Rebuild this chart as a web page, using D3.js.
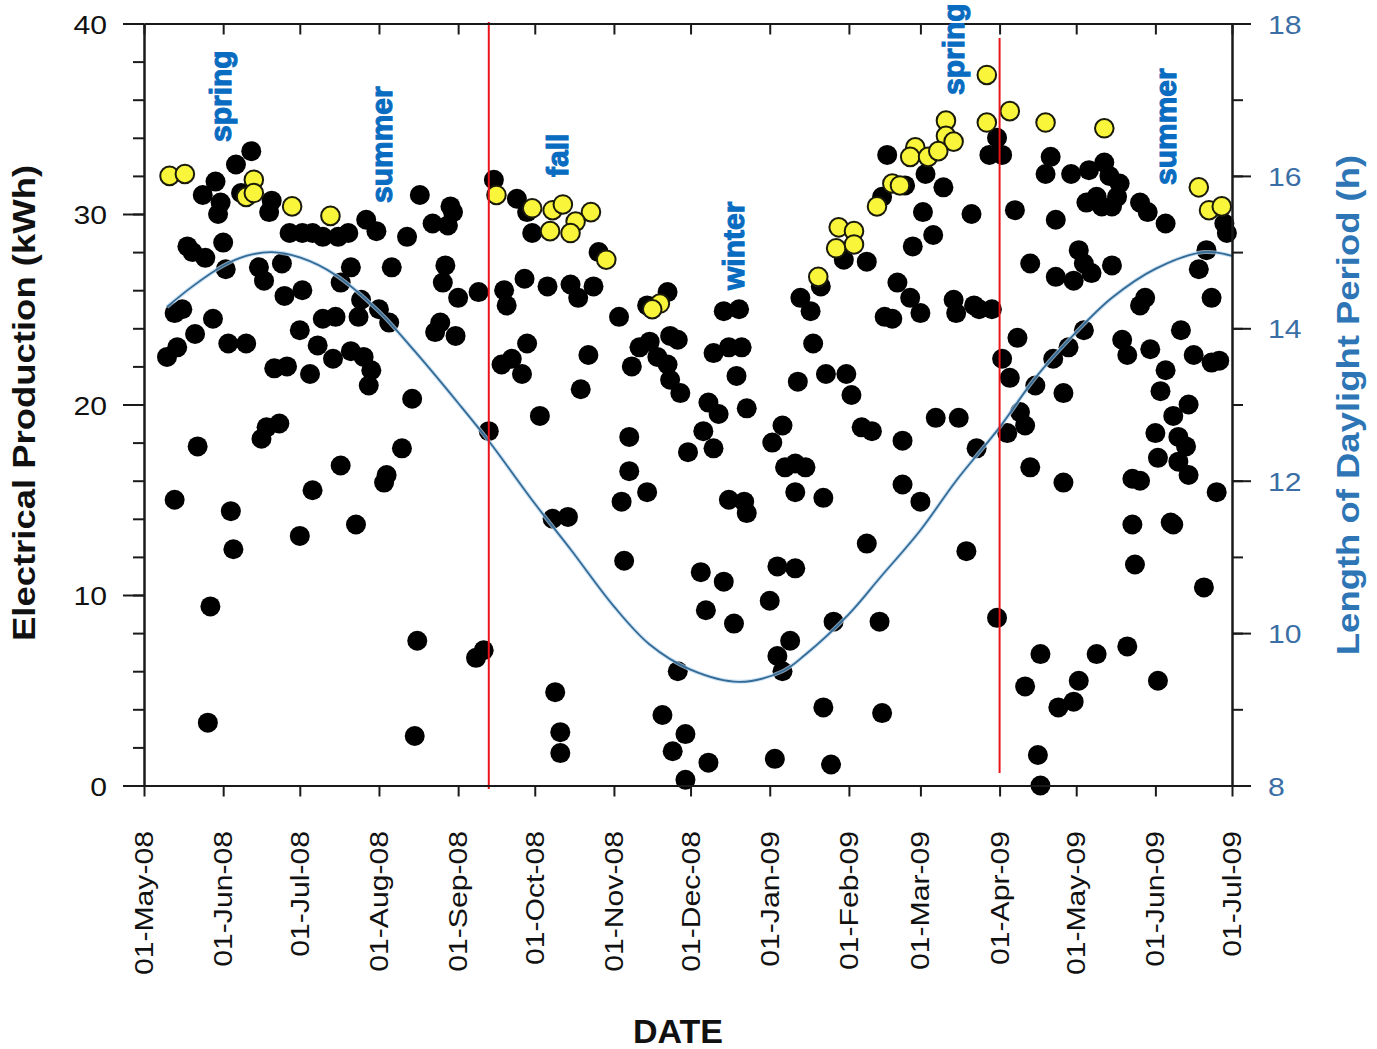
<!DOCTYPE html>
<html><head><meta charset="utf-8">
<script src="https://cdn.jsdelivr.net/npm/d3@7"></script>
<style>body{margin:0;background:#fff}svg{display:block}</style>
</head><body>
<svg id="c" width="1377" height="1049"></svg>
<script>
// ---------------- DATA ----------------
const startDate = "2008-05-01";           // day 0 of the day offsets below
const endDate = "2009-07-01";
const monthTicks = ["2008-05-01","2008-06-01","2008-07-01","2008-08-01","2008-09-01","2008-10-01","2008-11-01",
  "2008-12-01","2009-01-01","2009-02-01","2009-03-01","2009-04-01","2009-05-01","2009-06-01","2009-07-01"];
const leftTicks = [0,10,20,30,40];
const leftMinor = [0,2,4,6,8,10,12,14,16,18,20,22,24,26,28,30,32,34,36,38,40];
const rightTicks = [8,10,12,14,16,18];
const rightMinor = [8,9,10,11,12,13,14,15,16,17,18];

// Daily electrical production (kWh), black markers: day offset since 01-May-08 and value
const blackDay = [
  42,36,28,23,30,29,38,50,49,57,62,66,70,76,80,87,91,103,108,113,
  17,19,24,31,32,45,47,54,55,62,81,77,97,85,84,92,96,
  12,15,27,20,61,70,75,
  9,13,33,40,51,56,68,74,81,86,89,65,88,105,
  21,12,34,35,46,48,53,66,61,77,83,101,95,94,26,25,107,106,
  137,146,150,152,178,205,
  120,121,119,118,117,
  123,131,141,142,149,158,167,170,176,186,197,
  114,116,122,150,140,144,148,174,171,155,194,198,206,209,191,201,205,206,210,
  135,160,166,190,190,197,187,188,213,
  130,133,161,163,163,209,203,212,207,212,
  291,306,313,298,289,305,309,301,283,274,324,295,300,304,290,293,317,318,
  265,257,261,262,227,233,223,229,234,232,221,236,256,267,275,277,
  225,219,223,250,246,251,255,259,255,266,229,235,236,281,285,297,310,319,297,304,283,322,
  218,227,248,255,220,231,245,270,288,253,248,250,266,289,
  221,247,269,
  334,331,336,341,355,353,363,370,376,378,382,381,369,373,375,379,390,393,400,357,423,424,
  416,413,418,347,366,368,371,379,357,364,392,390,325,327,332,
  342,336,339,349,356,362,368,383,385,394,400,406,411,418,421,360,398,
  326,338,343,345,347,360,387,390,396,397,403,409,405,408,405,409,420,387,402,403,388,415,
  334,351,345,366,364,358,373,385,397,350,351
];
const blackKwh = [
  33.3,32.6,31.7,31.0,30.6,30.0,31.1,30.7,30.1,29.0,29.0,29.0,28.8,28.8,29.0,29.7,29.1,28.8,31.0,29.5,
  28.3,28.0,27.7,28.5,27.1,27.2,26.5,27.4,25.7,26.0,27.2,26.4,27.2,25.5,24.6,25.0,24.3,
  24.8,25.0,24.5,23.7,23.9,24.5,24.6,
  22.5,23.0,23.2,23.2,21.9,22.0,23.1,22.4,22.8,22.5,21.8,21.6,21.0,20.3,
  17.8,15.0,14.4,12.4,18.2,18.8,19.0,15.5,13.1,16.8,13.7,17.7,16.3,15.9,9.4,3.3,7.6,2.6,
  31.8,30.8,30.1,29.0,28.0,25.9,
  30.4,30.1,29.4,27.3,26.4,
  25.6,25.9,26.0,25.2,26.6,26.2,26.3,25.6,26.2,24.6,25.2,
  23.8,24.3,23.6,23.2,22.1,22.4,21.6,22.6,20.8,19.4,23.0,23.3,23.6,23.4,22.0,22.5,22.1,21.3,20.6,
  18.6,14.0,14.1,18.3,16.5,15.4,14.9,11.8,17.5,
  6.7,7.1,4.9,2.8,1.7,6.0,3.7,2.7,1.8,0.3,
  33.1,32.1,31.4,31.5,30.9,30.1,28.9,28.3,27.5,27.6,30.0,26.4,25.6,24.8,24.6,24.5,25.5,24.8,
  26.2,25.6,24.9,23.2,24.9,25.0,22.7,23.0,23.0,21.5,20.1,19.8,21.2,21.6,21.6,20.5,
  19.5,18.6,17.7,18.9,18.0,16.7,16.9,16.7,15.4,15.1,15.0,14.9,14.3,18.8,18.6,18.1,19.3,19.3,15.8,14.9,12.7,12.3,
  11.2,10.7,11.5,11.4,9.2,8.5,9.7,8.6,8.6,7.6,6.8,6.0,4.1,3.8,
  1.2,1.4,1.1,
  34.0,33.1,33.1,30.2,33.0,32.1,32.1,32.3,32.7,32.0,31.6,30.9,30.6,30.9,30.4,30.4,30.6,30.1,29.5,29.7,29.5,29.0,
  28.1,27.1,25.6,27.4,28.1,27.4,26.9,27.3,26.7,26.5,25.6,25.2,25.2,25.0,25.0,
  23.5,22.4,21.4,21.0,22.4,23.0,23.9,23.4,22.6,22.9,21.8,23.9,22.6,22.2,22.3,20.6,20.7,
  17.7,18.5,19.6,18.9,16.7,15.9,16.1,16.0,18.5,17.2,19.4,20.0,18.3,17.8,17.0,16.3,15.4,13.7,13.8,13.7,11.6,10.4,
  8.8,6.9,5.2,5.5,4.4,4.1,6.9,7.3,5.5,1.6,0.0
];
// Highlighted (yellow) days
const yellowDay = [10,16,43,40,43,58,73,
  138,152,160,164,175,169,159,167,181,202,199,
  314,314,317,302,300,307,311,293,296,287,272,278,271,278,264,
  330,330,339,353,376,413,417,422];
const yellowKwh = [32.0,32.1,31.8,30.9,31.1,30.4,29.9,
  31.0,30.3,30.2,30.5,30.1,29.6,29.1,29.0,27.6,25.3,25.0,
  34.9,34.1,33.8,33.5,33.0,33.0,33.3,31.6,31.5,30.4,29.3,29.1,28.2,28.4,26.7,
  37.3,34.8,35.4,34.8,34.5,31.4,30.2,30.4];

// Length of daylight period (h), right axis
const daylightDates = ["2008-05-10","2008-05-20","2008-06-01","2008-06-10","2008-06-20","2008-07-01","2008-07-15",
  "2008-08-01","2008-08-15","2008-09-01","2008-09-13","2008-10-01","2008-10-15","2008-11-01","2008-11-15",
  "2008-12-01","2008-12-20","2009-01-06","2009-01-15","2009-02-01","2009-02-13","2009-03-01","2009-03-15",
  "2009-04-01","2009-04-15","2009-05-01","2009-05-15","2009-06-01","2009-06-20","2009-07-01"];
const daylightHours = [14.28,14.55,14.82,14.95,15.00,14.93,14.70,
  14.22,13.70,13.02,12.52,11.70,11.10,10.35,9.85,
  9.52,9.36,9.50,9.72,10.25,10.72,11.35,12.00,
  12.70,13.35,13.95,14.40,14.78,15.00,14.95];

// Season boundaries (red lines) and season labels
const boundaryDates = ["2008-09-13","2009-04-01"];
const seasonNames = ["spring","summer","fall","winter","spring","summer"];
const seasonDates = ["2008-06-04","2008-08-06","2008-10-14","2008-12-22","2009-03-18","2009-06-09"];

// ---------------- LAYOUT ----------------
const L = 144, R = 1232, T = 23.5, B = 785.5;
const seasonY = [142, 203, 177, 290, 95, 185];
const boundaryY = [[22, 789], [38, 773]];
const FONT = "'Liberation Sans', Arial, Helvetica, sans-serif";
const STRETCH = 1.16;

const parse = d3.utcParse("%Y-%m-%d");
const start = parse(startDate);
const x = d3.scaleUtc().domain([start, parse(endDate)]).range([L, R]);
const y = d3.scaleLinear().domain([0, 40]).range([B, T]);
const y2 = d3.scaleLinear().domain([8, 18]).range([B, T]);
const dayDate = d => d3.utcDay.offset(start, d);

const svg = d3.select("#c");
svg.append("rect").attr("width", 1377).attr("height", 1049).attr("fill", "#fff");

// points
const gPts = svg.append("g");
gPts.selectAll("circle.b").data(blackDay.map((d, i) => [d, blackKwh[i]])).join("circle")
  .attr("class", "b").attr("cx", d => x(dayDate(d[0]))).attr("cy", d => y(d[1]))
  .attr("r", 10).attr("fill", "#000");
gPts.selectAll("circle.yl").data(yellowDay.map((d, i) => [d, yellowKwh[i]])).join("circle")
  .attr("class", "yl").attr("cx", d => x(dayDate(d[0]))).attr("cy", d => y(d[1]))
  .attr("r", 9.3).attr("fill", "#f9f53a").attr("stroke", "#1a1a0a").attr("stroke-width", 2);

// daylight curve
const curvePts = daylightDates.map((d, i) => [parse(d), daylightHours[i]]);
const line = d3.line().x(d => x(d[0])).y(d => y2(d[1])).curve(d3.curveCatmullRom.alpha(0.5));
svg.append("path").attr("d", line(curvePts)).attr("fill", "none")
  .attr("stroke", "#b9d6ee").attr("stroke-width", 4).attr("opacity", 0.7);
svg.append("path").attr("d", line(curvePts)).attr("fill", "none")
  .attr("stroke", "#336b97").attr("stroke-width", 1.8);

// red boundaries
svg.selectAll("line.red").data(boundaryDates).join("line").attr("class", "red")
  .attr("x1", d => x(parse(d))).attr("x2", d => x(parse(d)))
  .attr("y1", (d, i) => boundaryY[i][0]).attr("y2", (d, i) => boundaryY[i][1])
  .attr("stroke", "#e8141a").attr("stroke-width", 2);

// axes
const tickDates = monthTicks.map(parse);
function styleAxis(g) {
  g.selectAll("path.domain").attr("stroke", "#1a1a1a").attr("stroke-width", 2);
  g.selectAll(".tick line").attr("stroke", "#1a1a1a").attr("stroke-width", 2);
  g.selectAll(".tick text").remove();
}
svg.append("g").attr("transform", `translate(0,${B})`)
  .call(d3.axisBottom(x).tickValues(tickDates).tickSizeInner(11).tickSizeOuter(0)).call(styleAxis);
svg.append("g").attr("transform", `translate(0,${T})`)
  .call(d3.axisTop(x).tickValues(tickDates).tickSizeInner(-11).tickSizeOuter(0)).call(styleAxis);
svg.append("g").attr("transform", `translate(${L},0)`)
  .call(d3.axisLeft(y).tickValues(leftMinor).tickSizeInner(11).tickSizeOuter(0)).call(styleAxis);
svg.append("g").attr("transform", `translate(${L},0)`)
  .call(d3.axisLeft(y).tickValues(leftTicks).tickSizeInner(21).tickSizeOuter(0)).call(styleAxis);
svg.append("g").attr("transform", `translate(${R},0)`)
  .call(d3.axisRight(y2).tickValues(rightMinor).tickSizeInner(11).tickSizeOuter(0)).call(styleAxis);
svg.append("g").attr("transform", `translate(${R},0)`)
  .call(d3.axisRight(y2).tickValues(rightTicks).tickSizeInner(19).tickSizeOuter(0)).call(styleAxis);

// tick labels
const fmt = d3.utcFormat("%d-%b-%y");
svg.append("g").selectAll("text").data(tickDates).join("text")
  .attr("transform", d => `translate(${x(d) + 9},831) rotate(-90) scale(${STRETCH},1)`)
  .attr("text-anchor", "end").attr("font-family", FONT).attr("font-size", 26).attr("fill", "#111")
  .text(d => fmt(d));
svg.append("g").selectAll("text").data(leftTicks).join("text")
  .attr("transform", d => `translate(107,${y(d) + 10}) scale(${STRETCH},1)`)
  .attr("text-anchor", "end").attr("font-family", FONT).attr("font-size", 26).attr("fill", "#111")
  .text(d => d);
svg.append("g").selectAll("text").data(rightTicks).join("text")
  .attr("transform", d => `translate(1268,${y2(d) + 10}) scale(${STRETCH},1)`)
  .attr("text-anchor", "start").attr("font-family", FONT).attr("font-size", 26).attr("fill", "#3a6ea5")
  .text(d => d);

// titles
svg.append("text").attr("transform", `translate(35,403) rotate(-90) scale(1.14,1)`)
  .attr("text-anchor", "middle").attr("font-family", FONT).attr("font-weight", "bold")
  .attr("font-size", 32).attr("fill", "#111").text("Electrical Production (kWh)");
svg.append("text").attr("transform", `translate(1359,405) rotate(-90) scale(1.14,1)`)
  .attr("text-anchor", "middle").attr("font-family", FONT).attr("font-weight", "bold")
  .attr("font-size", 32).attr("fill", "#2e75b6").text("Length of Daylight Period (h)");
svg.append("text").attr("transform", `translate(678,1043)`)
  .attr("text-anchor", "middle").attr("font-family", FONT).attr("font-weight", "bold")
  .attr("font-size", 34).attr("fill", "#111").text("DATE");

// season labels
svg.append("g").selectAll("text").data(seasonNames).join("text")
  .attr("transform", (d, i) => `translate(${x(parse(seasonDates[i]))},${seasonY[i]}) rotate(-90)`)
  .attr("text-anchor", "start").attr("font-family", FONT).attr("font-weight", "bold")
  .attr("font-size", 30).attr("fill", "#0a6cc0")
  .attr("stroke", "#0a6cc0").attr("stroke-width", 1.1).attr("paint-order", "stroke")
  .text(d => d);
</script>
</body></html>
